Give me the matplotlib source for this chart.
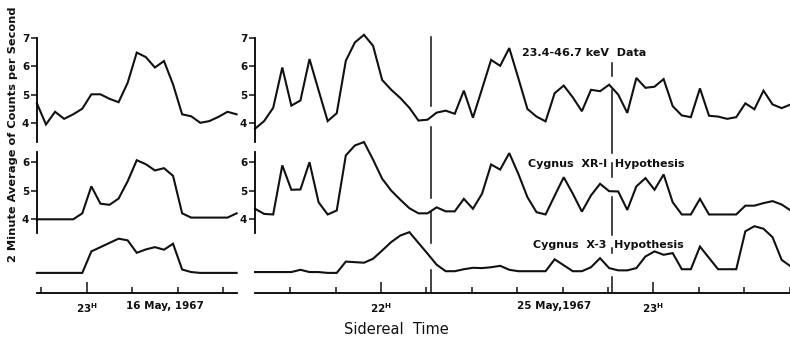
import numpy as np
import matplotlib.pyplot as plt
from matplotlib.transforms import blended_transform_factory

# 2-minute averages, counts per second
# 16 May 1967 (left block), times in minutes after 22h sidereal
left_start = 49.0
left_data = [4.69, 3.94, 4.39, 4.14, 4.30, 4.50, 5.01, 5.01, 4.85, 4.73, 5.42, 6.49,
             6.33, 5.96, 6.19, 5.36, 4.30, 4.23, 4.00, 4.06, 4.21, 4.39, 4.30]
left_xr1 = [4.00, 4.00, 4.00, 4.00, 4.00, 4.21, 5.16, 4.55, 4.51, 4.73, 5.34, 6.08,
            5.94, 5.72, 5.80, 5.53, 4.21, 4.06, 4.06, 4.06, 4.06, 4.06, 4.21]
left_x3 = [4.12, 4.12, 4.12, 4.12, 4.12, 4.12, 4.88, 5.03, 5.18, 5.33, 5.27, 4.83,
           4.95, 5.03, 4.94, 5.15, 4.24, 4.15, 4.12, 4.12, 4.12, 4.12, 4.12]

# 25 May 1967 (right block)
right_start = -27.75
right_data = [3.79, 4.06, 4.53, 5.96, 4.61, 4.79, 6.26, 5.15, 4.06, 4.34,
              6.20, 6.85, 7.12, 6.73, 5.52, 5.17, 4.88, 4.53, 4.08, 4.11,
              4.36, 4.43, 4.32, 5.14, 4.18, 5.20, 6.23, 6.02, 6.65, 5.58,
              4.49, 4.22, 4.05, 5.05, 5.32, 4.90, 4.41, 5.17, 5.12, 5.35,
              5.00, 4.35, 5.59, 5.24, 5.28, 5.55, 4.59, 4.26, 4.20, 5.22,
              4.25, 4.22, 4.14, 4.20, 4.69, 4.48, 5.14, 4.65, 4.52, 4.65]
right_xr1 = [4.37, 4.19, 4.17, 5.90, 5.04, 5.05, 6.01, 4.60, 4.17, 4.31,
             6.25, 6.60, 6.72, 6.10, 5.43, 5.01, 4.69, 4.39, 4.21, 4.21,
             4.42, 4.28, 4.28, 4.72, 4.37, 4.90, 5.93, 5.75, 6.33, 5.60,
             4.78, 4.25, 4.17, 4.83, 5.48, 4.90, 4.27, 4.84, 5.25, 4.99,
             4.98, 4.33, 5.16, 5.45, 5.04, 5.58, 4.60, 4.17, 4.17, 4.72,
             4.17, 4.17, 4.17, 4.17, 4.48, 4.48, 4.57, 4.64, 4.52, 4.31]
right_x3 = [4.15, 4.15, 4.15, 4.15, 4.15, 4.23, 4.15, 4.15, 4.12, 4.12,
            4.52, 4.50, 4.48, 4.62, 4.91, 5.21, 5.44, 5.56, 5.18, 4.80,
            4.41, 4.18, 4.18, 4.25, 4.30, 4.29, 4.32, 4.37, 4.23, 4.18,
            4.18, 4.18, 4.18, 4.60, 4.39, 4.18, 4.18, 4.32, 4.64, 4.29,
            4.21, 4.21, 4.29, 4.70, 4.88, 4.76, 4.82, 4.25, 4.25, 5.05,
            4.65, 4.25, 4.25, 4.25, 5.59, 5.77, 5.68, 5.38, 4.58, 4.35]

step = 2.0
left_hours = [60]
left_hour_labels = [r'$\mathbf{23^{H}}$']
right_hours = [0, 60]
right_hour_labels = [r'$\mathbf{22^{H}}$', r'$\mathbf{23^{H}}$']

W, H = 790, 337
fig = plt.figure(figsize=(7.9, 3.37), dpi=100)
ink = '#111111'
bold = dict(family='DejaVu Sans', weight='bold', color=ink)


def px_axes(x0, x1, ytop, ybot):
    ax = fig.add_axes([x0 / W, 1 - ybot / H, (x1 - x0) / W, (ybot - ytop) / H])
    ax.patch.set_visible(False)
    for s in ['top', 'right']:
        ax.spines[s].set_visible(False)
    return ax


cols = [
    (36.9, 236.6, (49, 93), left_start, [left_data, left_xr1, left_x3],
     left_hours, left_hour_labels, np.arange(50, 95, 10)),
    (254.8, 789.6, (-27.8, 90), right_start, [right_data, right_xr1, right_x3],
     right_hours, right_hour_labels, np.arange(-20, 95, 10)),
]
rows = [
    (20, 150, (3.035, 7.645), (3.32, 7.0), [4, 5, 6, 7]),
    (150, 245, (3.095, 6.44), (3.52, 6.37), [4, 5, 6]),
    (215, 293, (3.41, 6.166), None, []),
]

axes_cols = []
for x0, x1, xlim, start, series, hours, hlabels, minors in cols:
    col_axes = []
    for r, (yt, yb, ylim, bounds, yt_ticks) in enumerate(rows):
        ax = px_axes(x0, x1, yt, yb)
        vals = series[r]
        t = start + step * np.arange(len(vals))
        ax.plot(t, vals, color=ink, lw=1.5, solid_joinstyle='miter', clip_on=False)
        ax.set_xlim(*xlim)
        ax.set_ylim(*ylim)
        if bounds is not None:
            ax.spines['left'].set_bounds(*bounds)
            ax.spines['left'].set_linewidth(1.3)
            ax.set_yticks(yt_ticks)
            ax.set_yticklabels([str(v) for v in yt_ticks], fontsize=7.5, **bold)
            ax.tick_params(axis='y', direction='out', length=4, width=1.1, pad=1.5,
                           color=ink)
        else:
            ax.spines['left'].set_visible(False)
            ax.set_yticks([])
        if r < 2:
            ax.spines['bottom'].set_visible(False)
            ax.set_xticks([])
        else:
            ax.spines['bottom'].set_linewidth(1.3)
            ax.set_xticks(hours)
            ax.set_xticklabels(hlabels, fontsize=7.5, color=ink)
            ax.set_xticks([m for m in minors if m not in hours], minor=True)
            ax.tick_params(axis='x', which='major', direction='in', length=8,
                           width=1.1, pad=6, color=ink)
            ax.tick_params(axis='x', which='minor', direction='in', length=4,
                           width=1.1, color=ink)
        col_axes.append(ax)
    axes_cols.append(col_axes)

# date labels under the time axes
for ax, t, txt in [(axes_cols[0][2], 77.2, '16 May, 1967'),
                   (axes_cols[1][2], 38.1, '25 May,1967')]:
    ax.annotate(txt, xy=(t, 0), xycoords=('data', 'axes fraction'),
                xytext=(0, -5.5), textcoords='offset points',
                ha='center', va='top', fontsize=7.5, **bold)

# vertical marker lines on the 25 May block (broken where they cross traces)
tr = blended_transform_factory(axes_cols[1][2].transData, fig.transFigure)
solid_t = 11.1
for a, b in [(36.7, 106), (126.7, 198.3), (211.7, 243.3), (270, 293)]:
    fig.add_artist(plt.Line2D([solid_t, solid_t], [1 - a / H, 1 - b / H],
                              transform=tr, color=ink, lw=1.1))
dash_t = 50.8
for a, b in [(63.3, 76), (90, 153.3), (163.3, 176.7), (196.7, 235),
             (248.3, 253.3), (276.7, 293)]:
    fig.add_artist(plt.Line2D([dash_t, dash_t], [1 - a / H, 1 - b / H],
                              transform=tr, color=ink, lw=1.1))

fig.text(522 / W, 1 - 53 / H, '23.4-46.7 keV  Data', ha='left', va='center',
         fontsize=8, **bold)
fig.text(528 / W, 1 - 164 / H, 'Cygnus  XR-I  Hypothesis', ha='left', va='center',
         fontsize=8, **bold)
fig.text(533 / W, 1 - 245 / H, 'Cygnus  X-3  Hypothesis', ha='left', va='center',
         fontsize=8, **bold)
fig.text(396 / W, 1 - 330 / H, 'Sidereal  Time', ha='center', va='center',
         fontsize=10.5, family='DejaVu Sans', color=ink)
fig.text(13 / W, 1 - 134 / H, '2 Minute Average of Counts per Second',
         rotation=90, ha='center', va='center', fontsize=8.2, **bold)

fig.savefig('out.png', dpi=100, facecolor='white')
